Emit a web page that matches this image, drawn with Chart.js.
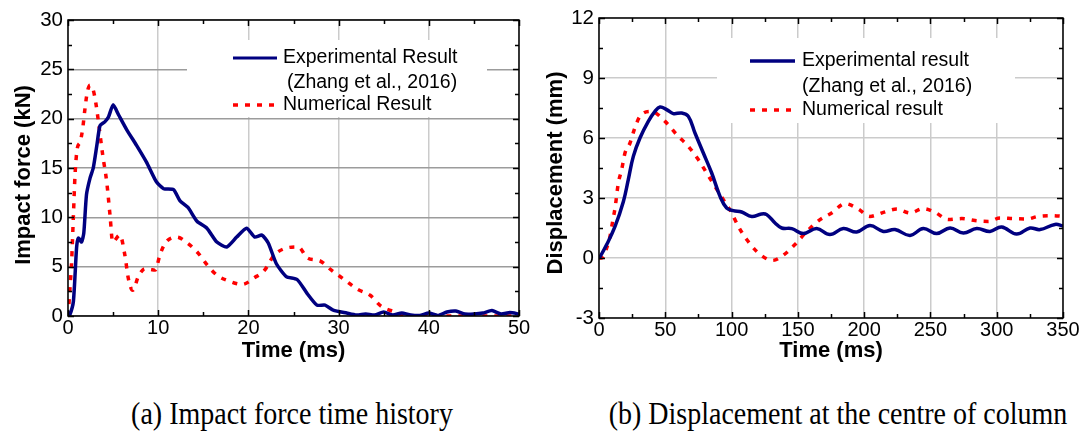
<!DOCTYPE html>
<html>
<head>
<meta charset="utf-8">
<script src="https://cdn.jsdelivr.net/npm/chart.js@4.4.0/dist/chart.umd.min.js"></script>
<style>
  body { margin: 0; background: #fff; }
  #wrap { position: relative; width: 1083px; height: 439px; overflow: hidden; background: #fff; }
  .box { position: absolute; top: 0; height: 372px; }
  #forceBox { left: 0; width: 540px; }
  #dispBox { left: 530px; width: 553px; }
  .caption {
    position: absolute; top: 396px; line-height: 36px;
    font-family: 'Liberation Serif', 'Times New Roman', serif; font-size: 28px;
    color: #000; white-space: nowrap; transform: translateX(-50%) scaleY(1.12);
  }
</style>
</head>
<body>
<div id="wrap">
  <div class="box" id="forceBox"><canvas id="forceChart"></canvas></div>
  <div class="box" id="dispBox"><canvas id="dispChart"></canvas></div>
  <div class="caption" style="left:292px">(a) Impact force time history</div>
  <div class="caption" style="left:838px">(b) Displacement at the centre of column</div>
</div>
<script>
// impact force (kN) vs time (ms)
const forceExpTime = [0, 0.2, 0.6, 0.95, 1.15, 1.5, 1.75, 2.05, 2.45, 2.8, 3.2, 3.55, 4.1, 4.5, 5.0, 5.6, 6.5, 7.6, 8.7, 9.8,
  10.6, 11.7, 12.4, 13.3, 14.3, 15.4, 16.5, 17.6, 18.7, 19.8, 20.7, 21.5, 22.2, 23.1, 24.2, 25.4, 26.5, 27.6, 28.5, 29.4,
  30.9, 32, 33, 34, 35, 36, 37, 38, 39, 40, 41, 42, 43, 44, 45, 46, 47, 48, 49, 50];
const forceExp = [0, 0.1, 1.5, 6.9, 7.9, 7.5, 8.4, 12.3, 14.0, 15.0, 17.3, 19.3, 19.7, 20.2, 21.4, 20.4, 18.9, 17.3, 15.6, 13.6,
  12.9, 12.8, 11.7, 11.0, 9.6, 8.9, 7.5, 7.0, 8.0, 8.9, 8.0, 8.2, 7.4, 5.3, 4.0, 3.7, 2.3, 1.1, 1.1, 0.6,
  0.3, 0.1, 0.2, 0.1, 0.4, 0.1, 0.3, 0.1, 0.05, 0.3, 0.05, 0.4, 0.5, 0.2, 0.2, 0.3, 0.55, 0.2, 0.35, 0.2];
const forceNumTime = [0, 0.03, 0.22, 0.4, 0.6, 0.78, 1.03, 1.33, 1.63, 1.88, 2.14, 2.44, 2.8, 3.1, 3.47, 3.85, 4.29, 4.66, 4.95,
  5.76, 6.3, 6.69, 7.17, 7.8, 8.54, 9.2, 9.65, 10.2, 10.75, 12.05, 13.3, 14.45, 15.4, 16.5, 17.96, 19.3, 20.7, 21.8, 22.8,
  24.05, 25.5, 26.6, 27.9, 29.2, 30.7, 32.1, 33.5, 34.7, 36.1, 37.5, 40, 45, 50];
const forceNum = [0, 0.3, 2.8, 5.5, 10.2, 14.3, 17.0, 17.6, 19.0, 21.0, 22.7, 23.4, 22.9, 21.5, 19.0, 16.3, 13.6, 10.2, 7.5,
  8.2, 6.2, 3.8, 2.6, 4.0, 4.8, 4.7, 4.65, 6.2, 7.35, 8.0, 7.35, 6.35, 5.2, 4.15, 3.5, 3.2, 3.9, 4.65, 6.1,
  6.85, 7.0, 5.85, 5.6, 4.65, 3.65, 2.7, 2.1, 1.0, 0.45, 0.05, 0, 0, 0];

// displacement (mm) vs time (ms)
const dispExpTime = [0, 0.75, 5.8, 12.1, 18.4, 22.1, 25.9, 30.9, 37.2, 42.2, 46, 51, 56, 62.4, 67.4, 72.4, 78.7, 85, 91.3, 96.3,
  101.3, 107.6, 115.2, 122.5, 126.5, 132.8, 137.8, 145.4, 154.1, 164.2, 174.2, 184.3, 194.4, 204.4, 214.5, 223.3, 234.6,
  244.6, 254.7, 264.8, 274.8, 284.9, 294.9, 303.7, 315, 325.1, 332.7, 344, 350];
const dispExp = [0, 0.05, 0.67, 1.58, 2.83, 3.92, 5.08, 6.0, 6.83, 7.33, 7.55, 7.42, 7.22, 7.25, 7.08, 6.25, 5.25, 4.25, 3.08, 2.5,
  2.37, 2.3, 2.08, 2.2, 2.17, 1.75, 1.5, 1.47, 1.22, 1.47, 1.17, 1.47, 1.3, 1.62, 1.33, 1.42, 1.13,
  1.47, 1.22, 1.5, 1.25, 1.47, 1.33, 1.55, 1.2, 1.5, 1.42, 1.68, 1.6];
const dispNumTime = [0, 2, 5.8, 8.3, 10.3, 12.1, 14.6, 17.1, 19.6, 23.4, 26.6, 30.9, 39.7, 49.8, 58.6, 67.4, 74.9, 81.2, 87.5,
  93.8, 100.1, 105.1, 111.4, 119, 127.7, 131, 137.8, 147.8, 156.7, 166.7, 175.5, 185.6, 195.6, 204.4, 214.5, 224.6,
  234.6, 244.6, 253.5, 263.5, 273.6, 283.6, 293.7, 302.5, 312.5, 322.6, 331.3, 342, 350];
const dispNum = [0, 0, 0.5, 1.08, 1.83, 2.5, 3.75, 4.42, 5.25, 5.75, 6.42, 7.08, 7.33, 6.83, 6.17, 5.58, 4.92, 4.25, 3.58,
  2.92, 2.25, 1.58, 0.92, 0.33, -0.08, -0.12, 0.08, 0.67, 1.33, 1.92, 2.25, 2.72, 2.45, 2.08, 2.28, 2.45,
  2.25, 2.47, 2.28, 1.92, 1.97, 1.87, 1.83, 2.0, 1.97, 1.95, 2.08, 2.12, 2.08];

const NAVY = '#000080';
const RED = '#ff0000';
const SANS = "'Liberation Sans', Arial, sans-serif";

Chart.defaults.font.family = SANS;
Chart.defaults.color = '#000';

function pairs(xs, ys) {
  return xs.map((x, i) => ({ x: x, y: ys[i] }));
}

// box frame with inward major/minor ticks on all four sides, plus axis titles
const framePlugin = {
  id: 'frame',
  afterDatasetsDraw(chart, args, opts) {
    const { ctx, chartArea: a, scales: { x, y } } = chart;
    const isMajor = (v, step) => Math.abs(v / step - Math.round(v / step)) < 1e-6;
    ctx.save();
    ctx.strokeStyle = '#000';
    ctx.lineWidth = 1.5;
    ctx.beginPath();
    for (let v = x.min; v <= x.max + 1e-9; v += opts.xMinor) {
      const px = Math.round(x.getPixelForValue(v)) + 0.5;
      const len = isMajor(v, opts.xMajor) ? 6 : 4;
      ctx.moveTo(px, a.bottom); ctx.lineTo(px, a.bottom - len);
      ctx.moveTo(px, a.top); ctx.lineTo(px, a.top + len);
    }
    for (let v = y.min; v <= y.max + 1e-9; v += opts.yMinor) {
      const py = Math.round(y.getPixelForValue(v)) + 0.5;
      const len = isMajor(v, opts.yMajor) ? 6 : 4;
      ctx.moveTo(a.left, py); ctx.lineTo(a.left + len, py);
      ctx.moveTo(a.right, py); ctx.lineTo(a.right - len, py);
    }
    ctx.stroke();
    ctx.strokeRect(a.left, a.top, a.right - a.left, a.bottom - a.top);

    // axis titles
    ctx.fillStyle = '#000';
    ctx.font = 'bold ' + opts.titleSize + 'px ' + SANS;
    ctx.textAlign = 'center';
    ctx.textBaseline = 'middle';
    ctx.fillText(opts.xTitle, (a.left + a.right) / 2, a.bottom + opts.xTitleOffset);
    ctx.translate(a.left - opts.yTitleOffset, (a.top + a.bottom) / 2 + opts.yTitleShift);
    ctx.rotate(-Math.PI / 2);
    ctx.fillText(opts.yTitle, 0, 0);
    ctx.restore();
  }
};

// legend inside the plot on a white patch that hides the grid
const boxLegendPlugin = {
  id: 'boxLegend',
  beforeDatasetsDraw(chart, args, opts) {
    const { ctx, chartArea: a } = chart;
    const [l, t, r, b] = opts.box;
    ctx.save();
    ctx.fillStyle = '#fff';
    ctx.fillRect(a.left + l, a.top + t, r - l, b - t);
    ctx.restore();
  },
  afterDatasetsDraw(chart, args, opts) {
    const { ctx, chartArea: a } = chart;
    ctx.save();
    ctx.font = opts.font;
    ctx.fillStyle = '#000';
    ctx.textBaseline = 'middle';
    opts.rows.forEach(row => {
      const yy = a.top + row.y;
      if (row.dataset !== undefined) {
        const ds = chart.data.datasets[row.dataset];
        ctx.strokeStyle = ds.borderColor;
        ctx.lineWidth = row.lineWidth;
        ctx.setLineDash(ds.borderDash || []);
        ctx.beginPath();
        ctx.moveTo(a.left + opts.sample[0], yy);
        ctx.lineTo(a.left + opts.sample[1], yy);
        ctx.stroke();
        ctx.setLineDash([]);
      }
      ctx.fillText(row.text, a.left + row.x, yy);
    });
    ctx.restore();
  }
};

function makeChart(id, cfg) {
  return new Chart(document.getElementById(id), {
    type: 'line',
    data: {
      datasets: [
        {
          data: pairs(cfg.expTime, cfg.exp),
          borderColor: NAVY, borderWidth: 3.5,
          pointRadius: 0, tension: cfg.expTension
        },
        {
          data: pairs(cfg.numTime, cfg.num),
          borderColor: RED, borderWidth: 3.5, borderDash: [5, 7],
          pointRadius: 0, cubicInterpolationMode: 'monotone'
        }
      ]
    },
    options: {
      responsive: true,
      maintainAspectRatio: false,
      animation: false,
      layout: { padding: cfg.padding },
      plugins: {
        legend: { display: false },
        tooltip: { enabled: false },
        frame: cfg.frame,
        boxLegend: cfg.legend
      },
      scales: {
        x: {
          type: 'linear', min: cfg.xMin, max: cfg.xMax,
          afterFit: s => { s.height = cfg.xHeight; },
          ticks: { stepSize: cfg.frame.xMajor, padding: 0, font: { size: 20 } },
          grid: { color: '#cbcbcb', lineWidth: 1.5, drawTicks: false },
          border: { display: false }
        },
        y: {
          min: cfg.yMin, max: cfg.yMax,
          afterFit: s => { s.width = cfg.yWidth; },
          ticks: { stepSize: cfg.frame.yMajor, padding: 5, font: { size: 20.5 } },
          grid: { color: cfg.hGrid, lineWidth: 1.5, drawTicks: false },
          border: { display: false }
        }
      }
    },
    plugins: [framePlugin, boxLegendPlugin]
  });
}

makeChart('forceChart', {
  expTime: forceExpTime, exp: forceExp, numTime: forceNumTime, num: forceNum,
  expTension: 0.2,
  xMin: 0, xMax: 50, yMin: 0, yMax: 30,
  padding: { left: 0, top: 20, right: 21, bottom: 0 },
  xHeight: 56, yWidth: 68,
  hGrid: '#9c9c9c',
  frame: {
    xMajor: 10, xMinor: 5, yMajor: 5, yMinor: 2.5,
    titleSize: 22, xTitle: 'Time (ms)', xTitleOffset: 35,
    yTitle: 'Impact force (kN)', yTitleOffset: 44, yTitleShift: 7
  },
  legend: {
    box: [119, 20, 419, 97],
    sample: [165, 209],
    font: '19.5px ' + SANS,
    rows: [
      { y: 38, x: 215, text: 'Experimental Result', dataset: 0, lineWidth: 3 },
      { y: 63, x: 219, text: '(Zhang et al., 2016)' },
      { y: 85, x: 215, text: 'Numerical Result', dataset: 1, lineWidth: 3.5 }
    ]
  }
});

makeChart('dispChart', {
  expTime: dispExpTime, exp: dispExp, numTime: dispNumTime, num: dispNum,
  expTension: 0.4,
  xMin: 0, xMax: 350, yMin: -3, yMax: 12,
  padding: { left: 0, top: 18, right: 20, bottom: 0 },
  xHeight: 54, yWidth: 69,
  hGrid: '#cbcbcb',
  frame: {
    xMajor: 50, xMinor: 25, yMajor: 3, yMinor: 1.5,
    titleSize: 22, xTitle: 'Time (ms)', xTitleOffset: 33,
    yTitle: 'Displacement (mm)', yTitleOffset: 43, yTitleShift: 5
  },
  legend: {
    box: [118, 20, 416, 105],
    sample: [151, 196],
    font: '19.5px ' + SANS,
    rows: [
      { y: 43, x: 203, text: 'Experimental result', dataset: 0, lineWidth: 3.5 },
      { y: 69, x: 203, text: '(Zhang et al., 2016)' },
      { y: 92, x: 203, text: 'Numerical result', dataset: 1, lineWidth: 3.5 }
    ]
  }
});
</script>
</body>
</html>
